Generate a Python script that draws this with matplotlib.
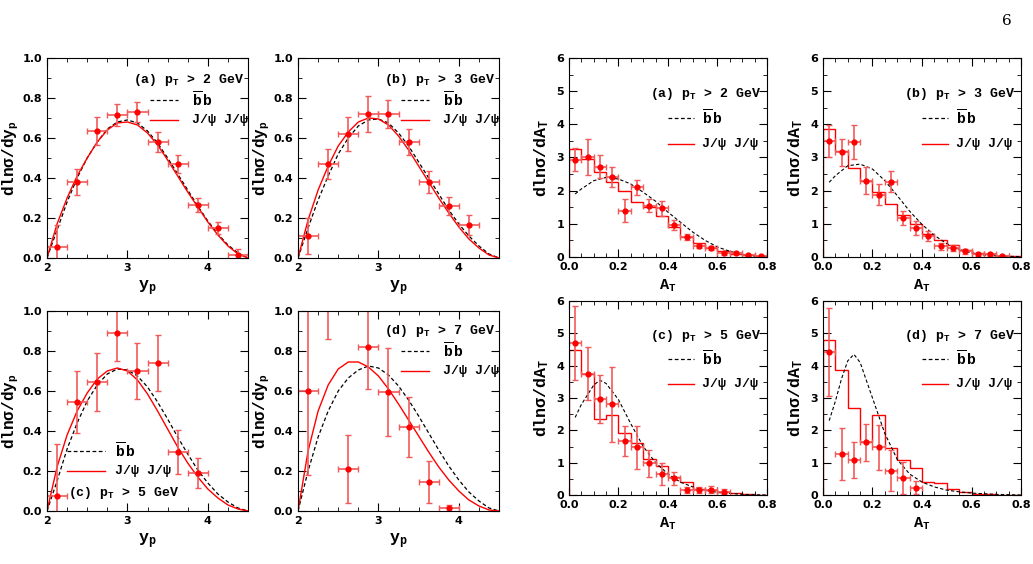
import numpy as np
import matplotlib
matplotlib.use('Agg')
import matplotlib.pyplot as plt
from matplotlib.ticker import MultipleLocator

# ---- rapidity panels: curves sampled every 0.125 from 2.0 to 4.5
y_grid = [2.0, 2.125, 2.25, 2.375, 2.5, 2.625, 2.75, 2.875, 3.0, 3.125, 3.25,
          3.375, 3.5, 3.625, 3.75, 3.875, 4.0, 4.125, 4.25, 4.375, 4.5]
y_bins = [2.125, 2.375, 2.625, 2.875, 3.125, 3.375, 3.625, 3.875, 4.125, 4.375]

ya_jj = [0, 0.17, 0.3, 0.41, 0.5, 0.58, 0.64, 0.675, 0.68, 0.665, 0.625, 0.565, 0.49, 0.41, 0.33, 0.255, 0.18, 0.115, 0.06, 0.02, 0]
ya_bb = [0, 0.14, 0.28, 0.40, 0.5, 0.58, 0.645, 0.68, 0.69, 0.675, 0.635, 0.575, 0.50, 0.42, 0.34, 0.26, 0.185, 0.12, 0.065, 0.025, 0]
ya_pt = [0.055, 0.38, 0.635, 0.715, 0.73, 0.58, 0.47, 0.265, 0.15, 0.015]
ya_er = [0.11, 0.065, 0.07, 0.055, 0.05, 0.05, 0.045, 0.035, 0.03, 0.03]

yb_jj = [0, 0.19, 0.34, 0.46, 0.56, 0.63, 0.68, 0.70, 0.695, 0.665, 0.61, 0.54, 0.46, 0.38, 0.3, 0.225, 0.155, 0.095, 0.05, 0.015, 0]
yb_bb = [0, 0.15, 0.29, 0.41, 0.52, 0.60, 0.66, 0.69, 0.695, 0.675, 0.625, 0.56, 0.48, 0.40, 0.32, 0.24, 0.17, 0.11, 0.06, 0.02, 0]
yb_pt = [0.11, 0.47, 0.62, 0.72, 0.72, 0.58, 0.38, 0.26, 0.165]
yb_er = [0.09, 0.075, 0.085, 0.09, 0.07, 0.065, 0.055, 0.045, 0.05]

yc_jj = [0, 0.22, 0.38, 0.50, 0.59, 0.66, 0.70, 0.715, 0.70, 0.655, 0.585, 0.50, 0.41, 0.32, 0.24, 0.17, 0.11, 0.065, 0.03, 0.01, 0]
yc_bb = [0, 0.15, 0.31, 0.44, 0.55, 0.63, 0.685, 0.71, 0.705, 0.675, 0.62, 0.545, 0.46, 0.37, 0.285, 0.205, 0.14, 0.085, 0.045, 0.015, 0]
yc_pt = [0.075, 0.545, 0.645, 0.89, 0.70, 0.74, 0.295, 0.19]
yc_er = [0.26, 0.155, 0.145, 0.14, 0.14, 0.14, 0.11, 0.075]

yd_jj = [0, 0.3, 0.5, 0.63, 0.71, 0.745, 0.745, 0.72, 0.675, 0.61, 0.535, 0.455, 0.375, 0.295, 0.22, 0.155, 0.10, 0.055, 0.025, 0.005, 0]
yd_bb = [0, 0.2, 0.37, 0.50, 0.60, 0.665, 0.705, 0.725, 0.715, 0.68, 0.625, 0.555, 0.475, 0.39, 0.305, 0.225, 0.155, 0.095, 0.05, 0.015, 0]
yd_pt = [0.6, 1.2, 0.21, 0.82, 0.595, 0.42, 0.145, 0.015]
yd_er = [0.42, 0.34, 0.17, 0.21, 0.22, 0.15, 0.105, 0.015]

# ---- A_T panels: histogram bins of 0.05 from 0 to 0.8
a_edges = [0.0, 0.05, 0.1, 0.15, 0.2, 0.25, 0.3, 0.35, 0.4, 0.45, 0.5, 0.55, 0.6, 0.65, 0.7, 0.75, 0.8]
a_bins = [0.025, 0.075, 0.125, 0.175, 0.225, 0.275, 0.325, 0.375, 0.425, 0.475, 0.525, 0.575, 0.625, 0.675, 0.725, 0.775]

aa_hist = [3.27, 2.95, 2.55, 2.25, 2.0, 1.65, 1.5, 1.25, 0.9, 0.6, 0.42, 0.28, 0.18, 0.1, 0.06, 0.03]
aa_pt = [2.93, 3.02, 2.72, 2.4, 1.4, 2.1, 1.55, 1.47, 0.97, 0.6, 0.33, 0.27, 0.11, 0.12, 0.05, 0.02]
aa_er = [0.35, 0.55, 0.35, 0.3, 0.35, 0.22, 0.2, 0.22, 0.15, 0.1, 0.07, 0.07, 0.05, 0.04, 0.03, 0.02]
aa_bx = [0.025, 0.05, 0.1, 0.15, 0.2, 0.25, 0.3, 0.35, 0.4, 0.45, 0.5, 0.55, 0.6, 0.65, 0.7, 0.75, 0.8]
aa_by = [1.9, 2.05, 2.3, 2.4, 2.35, 2.2, 1.95, 1.68, 1.35, 1.05, 0.75, 0.5, 0.3, 0.17, 0.08, 0.03, 0.01]

ab_hist = [3.87, 3.2, 2.68, 2.3, 1.95, 1.6, 1.28, 0.98, 0.7, 0.5, 0.35, 0.2, 0.12, 0.08, 0.04, 0.02]
ab_pt = [3.5, 3.15, 3.47, 2.3, 1.88, 2.27, 1.17, 0.87, 0.63, 0.32, 0.27, 0.17, 0.08, 0.08, 0.03]
ab_er = [0.48, 0.4, 0.52, 0.4, 0.32, 0.32, 0.22, 0.2, 0.15, 0.1, 0.1, 0.07, 0.04, 0.05, 0.03]
ab_bx = [0.025, 0.05, 0.1, 0.15, 0.2, 0.25, 0.3, 0.35, 0.4, 0.45, 0.5, 0.55, 0.6, 0.65, 0.7, 0.8]
ab_by = [2.25, 2.45, 2.75, 2.8, 2.65, 2.3, 1.85, 1.38, 0.98, 0.65, 0.4, 0.23, 0.12, 0.06, 0.03, 0.01]

ac_hist = [4.5, 3.75, 2.35, 2.48, 1.93, 1.6, 1.1, 0.9, 0.55, 0.4, 0.2, 0.15, 0.08, 0.05, 0.02, 0.01]
ac_pt = [4.7, 3.75, 2.97, 2.8, 1.67, 1.47, 0.98, 0.65, 0.52, 0.15, 0.15, 0.17, 0.1]
ac_er = [1.15, 0.82, 0.75, 1.15, 0.45, 0.68, 0.42, 0.35, 0.2, 0.1, 0.1, 0.12, 0.08]
ac_bx = [0.025, 0.05, 0.1, 0.125, 0.15, 0.2, 0.25, 0.3, 0.35, 0.4, 0.45, 0.5, 0.55, 0.6, 0.7, 0.8]
ac_by = [2.4, 2.8, 3.4, 3.55, 3.45, 2.95, 2.2, 1.5, 1.0, 0.65, 0.4, 0.25, 0.15, 0.08, 0.02, 0.0]

ad_hist = [4.8, 3.87, 2.7, 1.65, 2.47, 1.45, 1.08, 0.85, 0.4, 0.38, 0.2, 0.08, 0.04, 0.02, 0.01, 0.01]
ad_pt = [4.42, 1.27, 1.08, 1.63, 1.47, 0.75, 0.52, 0.22]
ad_er = [1.35, 0.8, 0.55, 0.58, 0.7, 0.63, 0.5, 0.2]
ad_bx = [0.025, 0.05, 0.075, 0.1, 0.125, 0.15, 0.2, 0.25, 0.3, 0.35, 0.4, 0.45, 0.5, 0.55, 0.6, 0.7, 0.8]
ad_by = [2.3, 2.9, 3.6, 4.15, 4.35, 4.1, 3.0, 1.9, 1.1, 0.65, 0.4, 0.25, 0.15, 0.1, 0.06, 0.02, 0.0]

MONO = 'Liberation Mono'
RED = '#ff0000'
ERRC = '#f25a5a'
plt.rcParams['mathtext.fontset'] = 'custom'
plt.rcParams['mathtext.rm'] = 'Liberation Mono:bold'
plt.rcParams['mathtext.it'] = 'Liberation Mono:bold'
plt.rcParams['mathtext.bf'] = 'Liberation Mono:bold'
plt.rcParams['mathtext.default'] = 'rm'
TXT = dict(family=MONO, fontweight='bold')


def style(ax, xlim, ylim, xmaj, xmin, ymaj, ymin, xfmt):
    ax.set_xlim(*xlim)
    ax.set_ylim(*ylim)
    ax.xaxis.set_major_locator(MultipleLocator(xmaj))
    ax.xaxis.set_minor_locator(MultipleLocator(xmin))
    ax.yaxis.set_major_locator(MultipleLocator(ymaj))
    ax.yaxis.set_minor_locator(MultipleLocator(ymin))
    ax.tick_params(which='both', direction='in', top=True, right=True, labelsize=8)
    ax.tick_params(which='major', length=6)
    ax.tick_params(which='minor', length=3)
    ax.xaxis.set_major_formatter(xfmt)
    for lab in ax.get_xticklabels() + ax.get_yticklabels():
        lab.set_fontweight('bold')


def legend(ax, label, y0, y1, y2, x0=0.51, x1=0.65, xt=0.72, xl=0.98):
    ax.text(xl, y0, label, transform=ax.transAxes, ha='right', va='center', fontsize=9.5, **TXT)
    ax.plot([x0, x1], [y1, y1], transform=ax.transAxes, color='black', ls=(0, (3, 2)), lw=0.9)
    ax.text(xt, y1, r'$\overline{\rm b}\,$b', transform=ax.transAxes, va='center', fontsize=10.5, **TXT)
    ax.plot([x0, x1], [y2, y2], transform=ax.transAxes, color=RED, lw=1.0)
    ax.text(xt, y2, 'J/ψ J/ψ', transform=ax.transAxes, va='center', fontsize=9.5, **TXT)


def y_panel(ax, jj, bb, pts, errs, label, leg, **kw):
    n = len(pts)
    ax.plot(y_grid, bb, color='black', ls=(0, (3, 2)), lw=0.9)
    ax.plot(y_grid, jj, color=RED, lw=1.0)
    ax.errorbar(y_bins[:n], pts, xerr=0.125, yerr=errs, fmt='o', ms=3.5, color=RED,
                ecolor=ERRC, elinewidth=1.2, capsize=2.5)
    style(ax, (2, 4.5), (0, 1), 1, 0.25, 0.2, 0.1, '{x:.0f}')
    ax.set_xlabel(r'y$_{\rm p}$', fontsize=12, **TXT)
    ax.set_ylabel(r'dln$\sigma$/dy$_{\rm p}$', fontsize=11.5, labelpad=1, **TXT)
    legend(ax, label, *leg, **kw)


def a_panel(ax, hist, pts, errs, bx, by, label):
    n = len(pts)
    ax.stairs(hist, a_edges, color=RED, lw=1.0, baseline=0)
    ax.plot(bx, by, color='black', ls=(0, (3, 2)), lw=0.8)
    ax.errorbar(a_bins[:n], pts, xerr=0.025, yerr=errs, fmt='o', ms=3.5, color=RED,
                ecolor=ERRC, elinewidth=1.2, capsize=2.5)
    style(ax, (0, 0.8), (0, 6), 0.2, 0.05, 1, 0.5, '{x:.1f}')
    ax.set_xlabel(r'A$_{\rm T}$', fontsize=11, **TXT)
    ax.set_ylabel(r'dln$\sigma$/dA$_{\rm T}$', fontsize=12, **TXT)
    legend(ax, label, 0.82, 0.70, 0.57, x0=0.50, x1=0.63, xt=0.67, xl=0.97)


fig = plt.figure(figsize=(10.33, 5.64), dpi=100)
w1, h = 0.1946, 0.3546
axes_y = [fig.add_axes([0.0455, 0.5426, w1, h]), fig.add_axes([0.2885, 0.5426, w1, h]),
          fig.add_axes([0.0455, 0.094, w1, h]), fig.add_axes([0.2885, 0.094, w1, h])]
w2 = 0.1917
axes_a = [fig.add_axes([0.5508, 0.5444, w2, 0.3528]), fig.add_axes([0.7967, 0.5444, w2, 0.3528]),
          fig.add_axes([0.5508, 0.1223, w2, 0.344]), fig.add_axes([0.7967, 0.1223, w2, 0.344])]

y_panel(axes_y[0], ya_jj, ya_bb, ya_pt, ya_er, r'(a) p$_{\rm T}$ > 2 GeV', (0.89, 0.79, 0.69))
y_panel(axes_y[1], yb_jj, yb_bb, yb_pt, yb_er, r'(b) p$_{\rm T}$ > 3 GeV', (0.89, 0.79, 0.69))
y_panel(axes_y[2], yc_jj, yc_bb, yc_pt, yc_er, r'(c) p$_{\rm T}$ > 5 GeV', (0.09, 0.30, 0.20),
        x0=0.10, x1=0.29, xt=0.34, xl=0.66)
y_panel(axes_y[3], yd_jj, yd_bb, yd_pt, yd_er, r'(d) p$_{\rm T}$ > 7 GeV', (0.90, 0.80, 0.70))

a_panel(axes_a[0], aa_hist, aa_pt, aa_er, aa_bx, aa_by, r'(a) p$_{\rm T}$ > 2 GeV')
a_panel(axes_a[1], ab_hist, ab_pt, ab_er, ab_bx, ab_by, r'(b) p$_{\rm T}$ > 3 GeV')
a_panel(axes_a[2], ac_hist, ac_pt, ac_er, ac_bx, ac_by, r'(c) p$_{\rm T}$ > 5 GeV')
a_panel(axes_a[3], ad_hist, ad_pt, ad_er, ad_bx, ad_by, r'(d) p$_{\rm T}$ > 7 GeV')

fig.text(0.975, 0.975, '6', ha='center', va='top', fontsize=11, family='DejaVu Serif')

fig.savefig('out.png', dpi=100)
